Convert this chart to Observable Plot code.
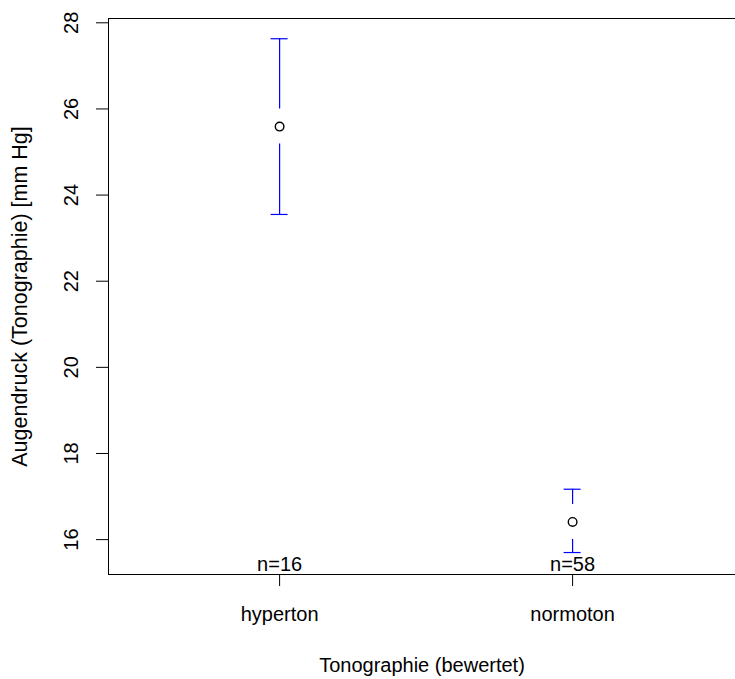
<!DOCTYPE html>
<html><head><meta charset="utf-8">
<script src="https://cdn.jsdelivr.net/npm/d3@7"></script>
<script src="https://cdn.jsdelivr.net/npm/@observablehq/plot@0.6"></script>
<style>body{margin:0;background:#fff}</style>
</head><body><div id="chart"></div>
<script>
const categories = ["hyperton", "normoton"];
const means = [25.59, 16.41];
const upper = [27.63, 17.17];
const lower = [23.55, 15.70];
const counts = [16, 58];
const yTicks = [16, 18, 20, 22, 24, 26, 28];
const xLabel = "Tonographie (bewertet)";
const yLabel = "Augendruck (Tonographie) [mm Hg]";

const data = categories.map((c, i) => ({pos: i + 1, cat: c, mean: means[i], hi: upper[i], lo: lower[i], n: counts[i]}));

const chart = Plot.plot({
  width: 735, height: 679,
  marginLeft: 108, marginTop: 18, marginRight: 0, marginBottom: 105,
  style: {fontFamily: "'Liberation Sans', Arial, sans-serif", fontSize: "20px", color: "black", background: "white"},
  x: {domain: [0.416, 2.556]},
  y: {domain: [15.19, 28.10]},
  marks: [
    Plot.frame({anchor: "top", stroke: "black"}),
    Plot.frame({anchor: "bottom", stroke: "black"}),
    Plot.frame({anchor: "left", stroke: "black"}),
    Plot.axisY(yTicks, {tickSize: 12, tickFormat: () => "", label: null}),
    Plot.text(yTicks, {y: d => d, text: d => String(d), frameAnchor: "left", dx: -37, rotate: -90, textAnchor: "middle", lineAnchor: "middle", fill: "black"}),
    Plot.axisX(data.map(d => d.pos), {tickSize: 12, tickFormat: () => "", label: null}),
    Plot.text(data, {x: "pos", text: "cat", frameAnchor: "bottom", dy: 40, lineAnchor: "middle", fill: "black"}),
    Plot.text([xLabel], {frameAnchor: "bottom", dy: 91, textAnchor: "middle", lineAnchor: "middle", fill: "black"}),
    Plot.text([yLabel], {frameAnchor: "left", dx: -88, rotate: -90, textAnchor: "middle", lineAnchor: "middle", fill: "black", fontSize: 21.5}),
    Plot.text(data, {x: "pos", text: d => "n=" + d.n, frameAnchor: "bottom", dy: -10, lineAnchor: "middle", fill: "black"}),
    Plot.ruleX(data, {x: "pos", y1: "hi", y2: "mean", insetBottom: 17.5, stroke: "blue", strokeWidth: 1.2}),
    Plot.ruleX(data, {x: "pos", y1: "mean", y2: "lo", insetTop: 17.5, stroke: "blue", strokeWidth: 1.2}),
    Plot.ruleY(data, {y: "hi", x1: "pos", x2: "pos", insetLeft: -8.5, insetRight: -8.5, stroke: "blue", strokeWidth: 1.2}),
    Plot.ruleY(data, {y: "lo", x1: "pos", x2: "pos", insetLeft: -8.5, insetRight: -8.5, stroke: "blue", strokeWidth: 1.2}),
    Plot.dot(data, {x: "pos", y: "mean", r: 4.3, stroke: "black", strokeWidth: 1.4, fill: "none"})
  ]
});
document.getElementById("chart").appendChild(chart);
</script>
</body></html>
